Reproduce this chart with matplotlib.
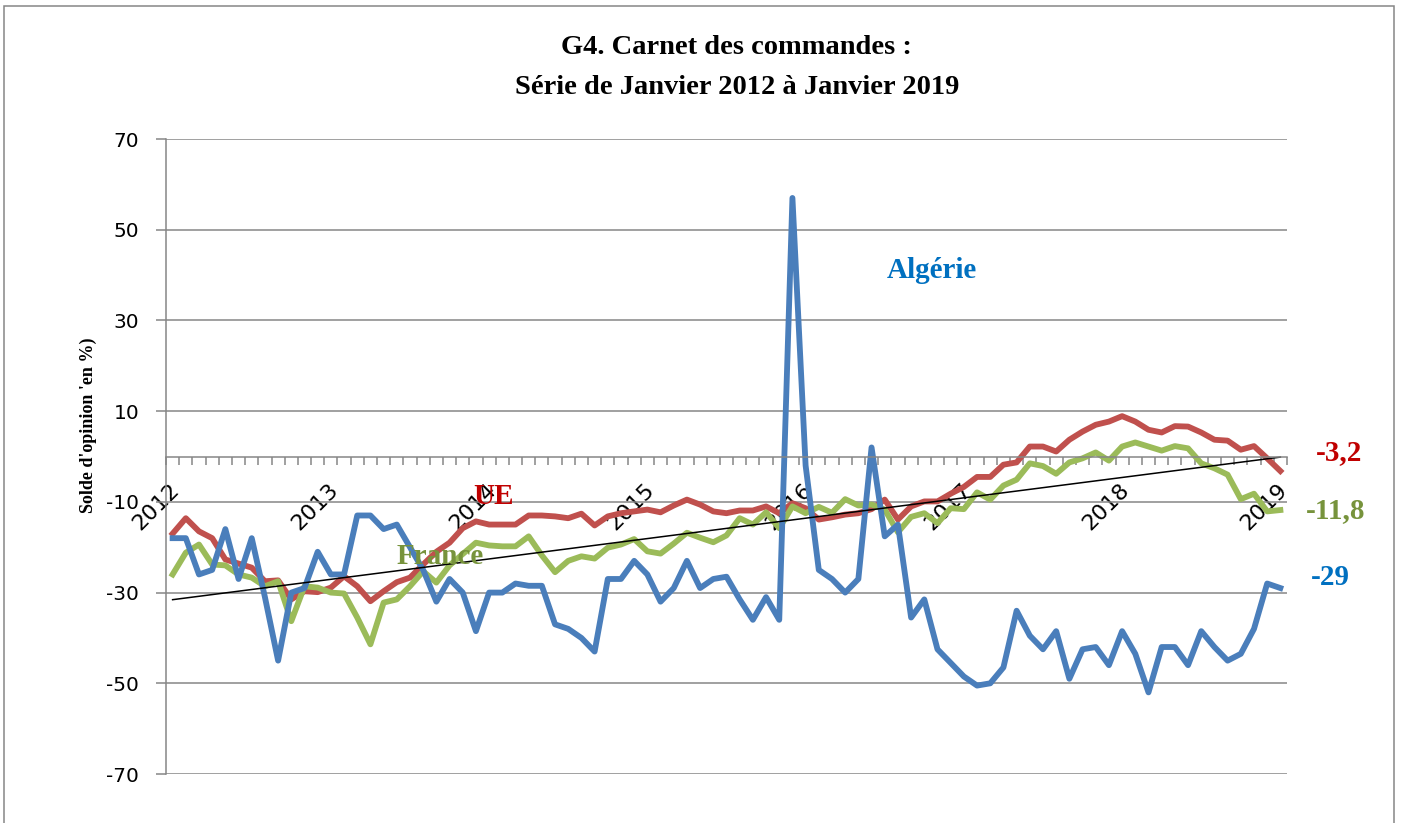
import numpy as np
import matplotlib
matplotlib.use('Agg')
import matplotlib.pyplot as plt
import matplotlib.transforms as mtransforms
from matplotlib.patches import Rectangle

plt.rcParams['axes.unicode_minus'] = False

# monthly series, Jan 2012 .. Jan 2019 (85 points)
years = ['2012', '2013', '2014', '2015', '2016', '2017', '2018', '2019']

algerie = [-18, -18, -26, -25, -16, -27, -18, -31, -45, -30, -29, -21,
           -26, -26, -13, -13, -16, -15, -20, -25, -32, -27, -30, -38.5,
           -30, -30, -28, -28.5, -28.5, -37, -38, -40, -43, -27, -27, -23,
           -26, -32, -29, -23, -29, -27, -26.5, -31.5, -36, -31, -36, 57,
           -2, -25, -27, -30, -27, 2, -17.6, -15, -35.5, -31.5, -42.5, -45.5,
           -48.5, -50.5, -50, -46.5, -34, -39.5, -42.5, -38.5, -49, -42.5, -42, -46,
           -38.5, -43.5, -52, -42, -42, -46, -38.5, -42, -45, -43.5, -38, -28,
           -29]

ue = [-17, -13.6, -16.5, -18, -22.7, -23.6, -24.5, -27.5, -27.3, -31.5, -29.7, -29.9,
      -28.9, -26.4, -28.6, -31.9, -29.7, -27.7, -26.7, -23.8, -21, -19, -15.8, -14.3,
      -15, -15, -15, -13, -13, -13.2, -13.6, -12.6, -15.2, -13.2, -12.5, -12.1,
      -11.7, -12.3, -10.8, -9.5, -10.6, -12.1, -12.5, -11.9, -11.9, -11, -12.5, -10.3,
      -11.4, -13.9, -13.4, -12.8, -12.5, -11.6, -9.5, -13.9, -11, -9.9, -9.9, -8.2,
      -6.7, -4.5, -4.5, -1.8, -1.3, 2.2, 2.2, 1.1, 3.7, 5.5, 7, 7.7,
      8.9, 7.7, 5.9, 5.3, 6.7, 6.6, 5.3, 3.7, 3.5, 1.5, 2.3, -0.4,
      -3.2]

france = [-26, -21.2, -19.4, -23.8, -24, -26, -26.7, -28.6, -27.5, -36.3, -28.6, -28.9,
          -30, -30.2, -35.5, -41.4, -32.2, -31.5, -28.6, -25.3, -27.8, -24, -21.5, -19,
          -19.6, -19.8, -19.8, -17.6, -21.8, -25.5, -23, -22, -22.5, -20.1, -19.4, -18.2,
          -20.9, -21.4, -19.2, -16.8, -17.9, -18.9, -17.4, -13.6, -15, -12.3, -15.8, -11,
          -12.5, -11.1, -12.4, -9.4, -10.8, -10.6, -11.7, -16.7, -13.3, -12.5, -14.7, -11.4,
          -11.6, -7.9, -9.5, -6.4, -5.1, -1.5, -2.1, -3.8, -1.3, -0.4, 0.9, -0.9,
          2.2, 3.1, 2.2, 1.3, 2.3, 1.8, -1.5, -2.6, -4, -9.4, -8.2, -12.1,
          -11.8]

last_labels = ['-3,2', '-11,8', '-29']

grey = '#868686'
c_alg, c_ue, c_fr = '#4A7EBB', '#C0504D', '#9BBB59'
t_alg, t_ue, t_fr = '#0070C0', '#C00000', '#77933C'
serif = 'Liberation Serif'

x = np.arange(len(algerie))

fig = plt.figure(figsize=(14.01, 8.23), dpi=100)
ax = fig.add_axes([0.1185, 0.0595, 0.8001, 0.7716])

ax.plot(x, ue, color=c_ue, lw=4.2, solid_joinstyle='round')
ax.plot(x, france, color=c_fr, lw=4.2, solid_joinstyle='round')
ax.plot(x, algerie, color=c_alg, lw=4.2, solid_joinstyle='round')

# linear trend (France)
a, b = np.polyfit(x, france, 1)
ax.plot([x[0], x[-1]], [b, a * x[-1] + b], color='black', lw=1.1)

ax.set_xlim(-0.5, len(x) - 0.5)
ax.set_ylim(-70, 70)
ax.set_yticks(np.arange(-70, 71, 20))
ax.yaxis.grid(True, color=grey, lw=1.1)
ax.set_axisbelow(True)

for s in ['top', 'right']:
    ax.spines[s].set_visible(False)
ax.spines['left'].set_color(grey)
ax.spines['left'].set_linewidth(1.1)
ax.spines['bottom'].set_position(('data', 0))
ax.spines['bottom'].set_color(grey)
ax.spines['bottom'].set_linewidth(1.1)

ax.tick_params(axis='y', length=7.2, width=1.1, color=grey, pad=12, labelsize=14.5)
ax.set_xticks(np.arange(0, len(x), 12))
ax.set_xticklabels(years, rotation=45, ha='right', va='center', rotation_mode='anchor')
ax.set_xticks(np.arange(-0.5, len(x), 1), minor=True)
ax.tick_params(axis='x', which='major', length=0, pad=22, labelsize=16)
ax.tick_params(axis='x', which='minor', length=5.8, width=1.1, color=grey, direction='out')
shift = mtransforms.ScaledTranslation(4 / 100, 0, fig.dpi_scale_trans)
for lab in ax.get_xticklabels():
    lab.set_transform(lab.get_transform() + shift)

# series annotations
ax.text(57.6, 41, 'Algérie', color=t_alg, fontsize=21, fontweight='bold', family=serif,
        ha='center', va='center')
ax.text(24.3, -8.9, 'UE', color=t_ue, fontsize=21, fontweight='bold', family=serif,
        ha='center', va='center')
ax.text(20.3, -22.1, 'France', color=t_fr, fontsize=21, fontweight='bold', family=serif,
        ha='center', va='center')
ax.text(86.7, 0.8, last_labels[0], color=t_ue, fontsize=21, fontweight='bold', family=serif,
        ha='left', va='center')
ax.text(85.9, -12, last_labels[1], color=t_fr, fontsize=21, fontweight='bold', family=serif,
        ha='left', va='center')
ax.text(86.3, -26.7, last_labels[2], color=t_alg, fontsize=21, fontweight='bold', family=serif,
        ha='left', va='center')

fig.text(0.526, 1 - 48 / 823, 'G4. Carnet des commandes :', ha='center', va='center',
         fontsize=20.5, fontweight='bold', family=serif)
fig.text(0.526, 1 - 88 / 823, 'Série de Janvier 2012 à Janvier 2019', ha='center', va='center',
         fontsize=20.5, fontweight='bold', family=serif)
fig.text(88 / 1401, 1 - 425 / 823, "Solde d'opinion 'en %)", rotation=90, ha='center', va='center',
         fontsize=13, fontweight='bold', family=serif)

fig.patches.append(Rectangle((4 / 1401, -0.05), 1390 / 1401, 1.05 - 5.5 / 823,
                             transform=fig.transFigure, fill=False, edgecolor=grey, lw=1.1))

fig.savefig('out.png', dpi=100)
